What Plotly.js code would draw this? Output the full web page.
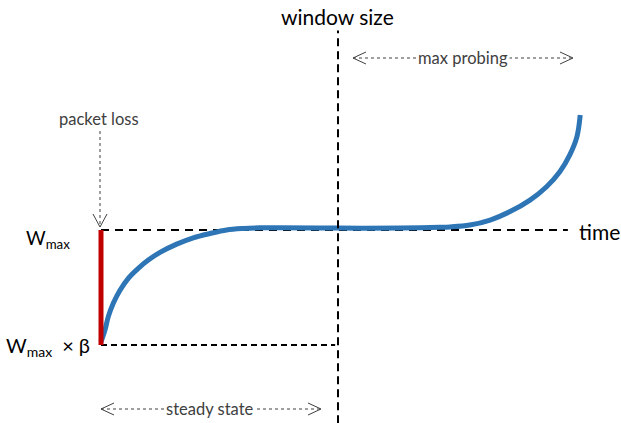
<!DOCTYPE html>
<html>
<head>
<meta charset="utf-8">
<script src="https://cdn.plot.ly/plotly-3.0.1.min.js"></script>
<style>html,body{margin:0;padding:0;background:#fff;}#chart{width:621px;height:423px;}</style>
</head>
<body>
<div id="chart"></div>
<script>
// Congestion window vs time (CUBIC)
const time = [0.00, 0.084, 0.154, 0.259, 0.401, 0.576, 0.787, 0.998, 1.245, 1.597, 1.947, 2.30, 2.65, 3.00, 3.35, 3.78, 5.00, 6.31, 7.15, 7.36, 7.78, 8.21, 8.63, 9.05, 9.40, 9.68, 9.89, 10.04, 10.11];
const cwnd = [70.8, 73.9, 77.4, 80.9, 84.3, 87.4, 90.0, 92.15, 94.16, 96.32, 97.97, 99.09, 100.0, 100.39, 100.57, 100.6, 100.5, 100.5, 100.7, 100.8, 101.3, 102.6, 104.8, 107.8, 111.3, 115.2, 119.6, 124.3, 130.0];

const Wmax = 100;         // window size at packet loss
const beta = 0.7;         // multiplicative decrease factor
const K = 5;              // time at which Wmax is reached again
const tLoss = 0;          // time of packet loss
const tWmaxLineEnd = 9.85;
const tBetaLineEnd = 4.94;
const windowAxisBottom = 49.6, windowAxisTop = 152.3;

const labels = {
  yAxis: 'window size', xAxis: 'time', loss: 'packet loss',
  probing: 'max probing', steady: 'steady state',
  wmax: 'W<sub>max</sub>', wmaxBeta: 'W<sub>max</sub>\u2002×\u2005β'
};

const W = 621, H = 423;
const px = v => v / W;
const py = v => 1 - v / H;
const FONT = 'Lato, "Open Sans", sans-serif';
const GREY = '#404040';

const traces = [
  {x: [tLoss, tWmaxLineEnd], y: [Wmax, Wmax], mode: 'lines',
   line: {color: '#000', width: 2, dash: '8px,6px'}},
  {x: [tLoss, tBetaLineEnd], y: [Wmax * beta, Wmax * beta], mode: 'lines',
   line: {color: '#000', width: 2, dash: '6px,4px'}},
  {x: time, y: cwnd, mode: 'lines',
   line: {color: '#2E75B6', width: 5, shape: 'spline', smoothing: 1}},
  {x: [K, K], y: [windowAxisBottom, windowAxisTop], mode: 'lines',
   line: {color: '#000', width: 2, dash: '8px,5px'}},
  {x: [tLoss, tLoss], y: [Wmax * beta, Wmax], mode: 'lines',
   line: {color: '#C00000', width: 5}}
];

function path(points) {
  return points.map((p, i) => (i ? 'L' : 'M') + px(p[0]) + ',' + py(p[1])).join(' ');
}
const dotted = {color: GREY, width: 1, dash: 'dot'};
const head = {color: GREY, width: 1};
const shapes = [
  // max probing arrow
  {type: 'path', xref: 'paper', yref: 'paper', path: path([[353, 58], [573, 58]]), line: dotted},
  {type: 'path', xref: 'paper', yref: 'paper', path: path([[366, 52], [353, 58], [366, 64]]), line: head},
  {type: 'path', xref: 'paper', yref: 'paper', path: path([[560, 52], [573, 58], [560, 64]]), line: head},
  // steady state arrow
  {type: 'path', xref: 'paper', yref: 'paper', path: path([[101, 409], [321, 409]]), line: dotted},
  {type: 'path', xref: 'paper', yref: 'paper', path: path([[114, 403], [101, 409], [114, 415]]), line: head},
  {type: 'path', xref: 'paper', yref: 'paper', path: path([[308, 403], [321, 409], [308, 415]]), line: head},
  // packet loss arrow
  {type: 'path', xref: 'paper', yref: 'paper', path: path([[100, 131], [100, 227]]), line: dotted},
  {type: 'path', xref: 'paper', yref: 'paper', path: path([[93, 214], [100, 227], [107, 214]]), line: head}
];

const ann = (text, x, y, size, color, extra) => Object.assign({
  text, xref: 'paper', yref: 'paper', x: px(x), y: py(y), showarrow: false,
  font: {family: FONT, size, color}, xanchor: 'center', yanchor: 'middle'
}, extra || {});

const annotations = [
  ann(labels.yAxis, 337, 17, 21, '#000', {bgcolor: '#fff'}),
  ann(labels.xAxis, 577, 231, 21, '#000', {xanchor: 'left'}),
  ann(labels.loss, 99, 119, 16.5, GREY),
  ann(labels.probing, 463, 58, 16.5, GREY, {bgcolor: '#fff', borderpad: 1}),
  ann(labels.steady, 210, 409, 16.5, GREY, {bgcolor: '#fff', borderpad: 1}),
  ann(labels.wmax, 24, 239, 19, '#000', {xanchor: 'left'}),
  ann(labels.wmaxBeta, 4, 346, 20, '#000', {xanchor: 'left'})
];

const layout = {
  width: W, height: H,
  margin: {l: 0, r: 0, t: 0, b: 0},
  paper_bgcolor: '#fff', plot_bgcolor: '#fff',
  showlegend: false,
  xaxis: {range: [-101 / 47.4, (621 - 101) / 47.4], visible: false, fixedrange: true},
  yaxis: {range: [100 - 193 / 3.833, 100 + 230 / 3.833], visible: false, fixedrange: true},
  shapes, annotations,
  font: {family: FONT}
};

Plotly.newPlot('chart', traces, layout, {displayModeBar: false, staticPlot: true});
</script>
</body>
</html>
